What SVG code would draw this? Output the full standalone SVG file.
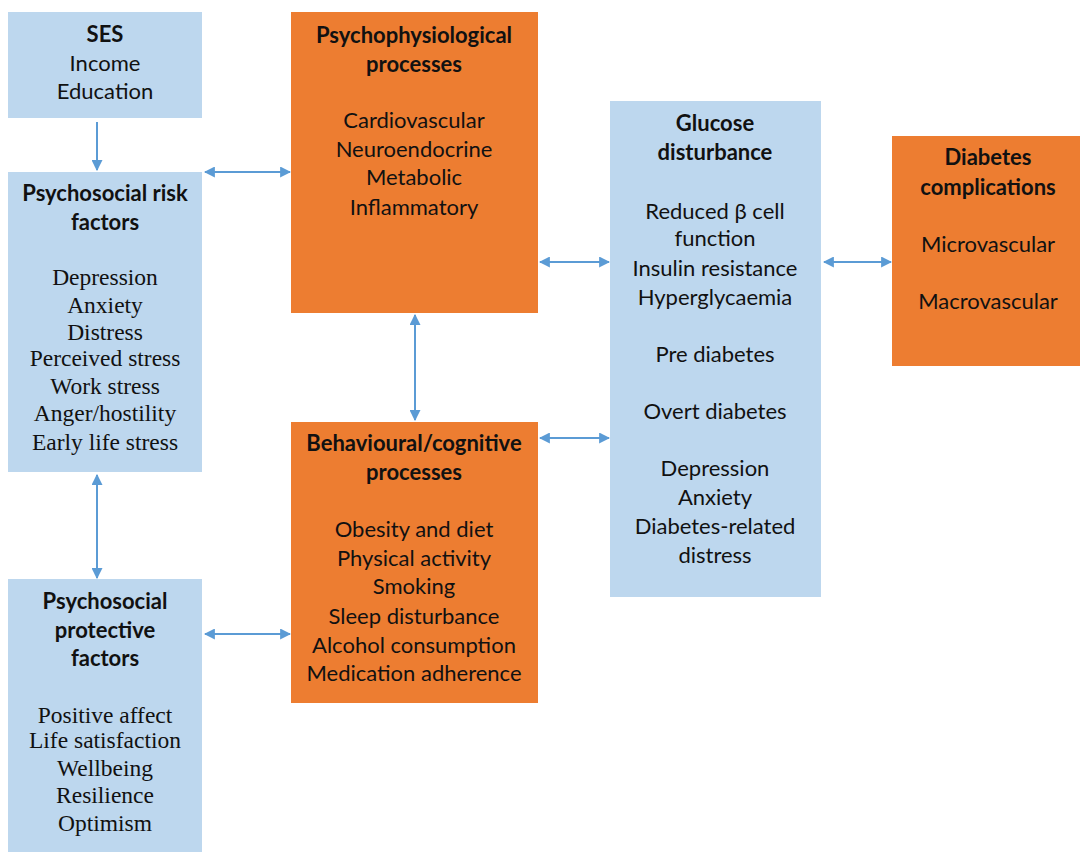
<svg xmlns="http://www.w3.org/2000/svg" width="1080" height="852" viewBox="0 0 1080 852">
<defs>
<marker id="ah" viewBox="0 0 10 10" refX="9" refY="5" markerWidth="11" markerHeight="11" markerUnits="userSpaceOnUse" orient="auto-start-reverse">
<path d="M0,0 L10,5 L0,10 z" fill="#5B9BD5"/>
</marker>
<style>
.blue{fill:#BDD7EE}
.orange{fill:#ED7D31}
text{font-family:Lato,"Liberation Sans",sans-serif;font-size:22px;fill:#111;text-anchor:middle}
.b{font-weight:bold}
.serif{font-family:"Liberation Serif",serif;font-size:23.5px}
.c line{stroke:#5B9BD5;stroke-width:2;fill:none}
</style>
</defs>
<rect width="1080" height="852" fill="#fff"/>
<g id="ses">
<rect class="blue" x="8" y="12" width="194" height="106"/>
<text class="b" x="105" y="42">SES</text>
<text x="105" y="71">Income</text>
<text x="105" y="99">Education</text>
</g>
<g id="risk">
<rect class="blue" x="8" y="172" width="194" height="300"/>
<text class="b" x="105" y="201">Psychosocial risk</text>
<text class="b" x="105" y="230">factors</text>
<text class="serif" x="105" y="285">Depression</text>
<text class="serif" x="105" y="313">Anxiety</text>
<text class="serif" x="105" y="340">Distress</text>
<text class="serif" x="105" y="366">Perceived stress</text>
<text class="serif" x="105" y="394">Work stress</text>
<text class="serif" x="105" y="421">Anger/hostility</text>
<text class="serif" x="105" y="450">Early life stress</text>
</g>
<g id="protective">
<rect class="blue" x="8" y="579" width="194" height="273"/>
<text class="b" x="105" y="609">Psychosocial</text>
<text class="b" x="105" y="638">protective</text>
<text class="b" x="105" y="666">factors</text>
<text class="serif" x="105" y="723">Positive affect</text>
<text class="serif" x="105" y="748">Life satisfaction</text>
<text class="serif" x="105" y="776">Wellbeing</text>
<text class="serif" x="105" y="803">Resilience</text>
<text class="serif" x="105" y="831">Optimism</text>
</g>
<g id="psychophys">
<rect class="orange" x="291" y="12" width="247" height="301"/>
<text class="b" x="414" y="43">Psychophysiological</text>
<text class="b" x="414" y="72">processes</text>
<text x="414" y="128">Cardiovascular</text>
<text x="414" y="157">Neuroendocrine</text>
<text x="414" y="185">Metabolic</text>
<text x="414" y="215">Inflammatory</text>
</g>
<g id="behavioural">
<rect class="orange" x="291" y="422" width="247" height="281"/>
<text class="b" x="414" y="451">Behavioural/cognitive</text>
<text class="b" x="414" y="480">processes</text>
<text x="414" y="537">Obesity and diet</text>
<text x="414" y="566">Physical activity</text>
<text x="414" y="594">Smoking</text>
<text x="414" y="624">Sleep disturbance</text>
<text x="414" y="653">Alcohol consumption</text>
<text x="414" y="681">Medication adherence</text>
</g>
<g id="glucose">
<rect class="blue" x="610" y="101" width="211" height="496"/>
<text class="b" x="715" y="131">Glucose</text>
<text class="b" x="715" y="160">disturbance</text>
<text x="715" y="219">Reduced β cell</text>
<text x="715" y="246">function</text>
<text x="715" y="276">Insulin resistance</text>
<text x="715" y="305">Hyperglycaemia</text>
<text x="715" y="362">Pre diabetes</text>
<text x="715" y="419">Overt diabetes</text>
<text x="715" y="476">Depression</text>
<text x="715" y="505">Anxiety</text>
<text x="715" y="534">Diabetes-related</text>
<text x="715" y="563">distress</text>
</g>
<g id="complications">
<rect class="orange" x="892" y="136" width="188" height="230"/>
<text class="b" x="988" y="165">Diabetes</text>
<text class="b" x="988" y="195">complications</text>
<text x="988" y="252">Microvascular</text>
<text x="988" y="309">Macrovascular</text>
</g>
<g id="connectors" class="c">
<line x1="97" y1="122" x2="97" y2="170" marker-end="url(#ah)"/>
<line x1="205" y1="172" x2="290" y2="172" marker-start="url(#ah)" marker-end="url(#ah)"/>
<line x1="540" y1="262" x2="609" y2="262" marker-start="url(#ah)" marker-end="url(#ah)"/>
<line x1="415" y1="315" x2="415" y2="420" marker-start="url(#ah)" marker-end="url(#ah)"/>
<line x1="540" y1="438" x2="609" y2="438" marker-start="url(#ah)" marker-end="url(#ah)"/>
<line x1="97" y1="475" x2="97" y2="578" marker-start="url(#ah)" marker-end="url(#ah)"/>
<line x1="205" y1="634" x2="290" y2="634" marker-start="url(#ah)" marker-end="url(#ah)"/>
<line x1="824" y1="262" x2="891" y2="262" marker-start="url(#ah)" marker-end="url(#ah)"/>
</g>
</svg>
